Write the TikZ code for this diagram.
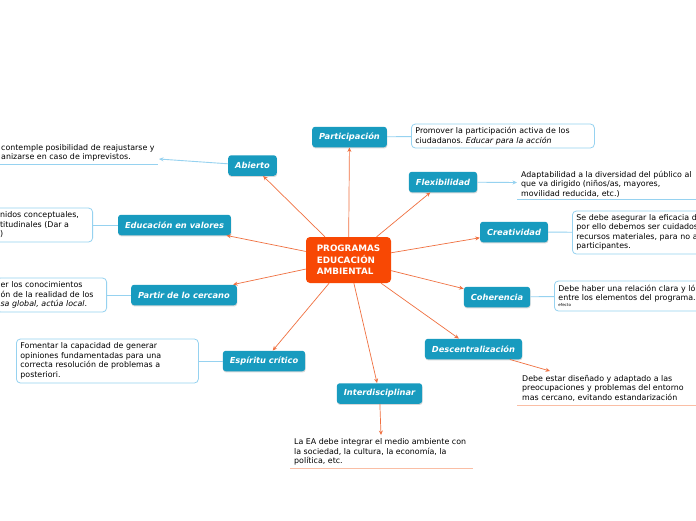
\documentclass[tikz,border=0pt]{standalone}
\usepackage{fontspec}
\setmainfont{DejaVu Sans}
\usetikzlibrary{arrows.meta,shadows}
\definecolor{tblue}{RGB}{24,155,191}
\definecolor{corange}{RGB}{240,112,64}
\definecolor{cred}{RGB}{248,72,4}
\definecolor{lblue}{RGB}{150,210,240}
\definecolor{salmon}{RGB}{250,190,165}
\tikzset{
  topic/.style={fill=tblue, text=white, font=\fontsize{8.3}{10}\selectfont\bfseries\itshape,
    rounded corners=3pt, inner xsep=7pt, inner ysep=0pt, minimum height=20.5pt,
    drop shadow={shadow xshift=0.4pt, shadow yshift=-1.2pt, opacity=0.3}},
  central/.style={fill=cred, text=white, font=\fontsize{8.8}{11.5}\selectfont\bfseries,
    rounded corners=4pt, align=left, minimum width=85pt, minimum height=46pt, inner sep=0pt},
  desc/.style={font=\fontsize{7.9}{9.5}\selectfont\frenchspacing, align=left, inner sep=0pt},
  dbox/.style={desc, draw=lblue, line width=0.8pt, fill=white, rounded corners=4pt, inner xsep=4pt, inner ysep=0pt},
  conn/.style={draw=corange, line width=0.7pt, -{Stealth[length=4.5pt,width=4pt]}},
  bconn/.style={draw=lblue, line width=0.9pt},
  barrow/.style={bconn, -{Stealth[length=4.5pt,width=4pt]}},
  uline/.style={line width=0.8pt},
}
\begin{document}
\begin{tikzpicture}[x=1pt,y=-1pt]
\useasboundingbox (0,0) rectangle (696,520);
\clip (0,0) rectangle (696,520);
\fill[white] (0,0) rectangle (696,520);

% central
\node[central] (c) at (348.5,260) {PROGRAMAS\\EDUCACIÓN\\AMBIENTAL};

% topics
\node[topic] (part) at (349.5,137) {Participación};
\node[topic] (abie) at (252.5,165.5) {Abierto};
\node[topic] (flex) at (443,182) {Flexibilidad};
\node[topic] (educ) at (174.5,225) {Educación en valores};
\node[topic] (crea) at (514,232) {Creatividad};
\node[topic] (cerc) at (184,295) {Partir de lo cercano};
\node[topic] (cohe) at (497,297) {Coherencia};
\node[topic] (desc) at (473.5,349) {Descentralización};
\node[topic] (espi) at (264,361) {Espíritu crítico};
\node[topic] (inte) at (379.5,393.5) {Interdisciplinar};

% central connectors
\foreach \t in {part,abie,flex,educ,crea,cerc,cohe,desc,espi,inte}
  \draw[conn] (c) -- (\t);

% description boxes
\node[dbox, anchor=west, text width=175pt, minimum height=24pt] (partd) at (411,136)
  {Promover la participación activa de los\\ciudadanos. \textit{Educar para la acción}};
\draw[bconn] (part) -- (partd);

\node[dbox, anchor=east, text width=88.5pt, minimum height=34pt] (educd) at (93,225)
  {nidos conceptuales,\\titudinales (Dar a\\)};
\draw[bconn] (educ) -- (educd);

\node[dbox, anchor=east, text width=102pt, minimum height=34pt] (cercd) at (107,295)
  {er los conocimientos\\ón de la realidad de los\\\textit{sa global, actúa local}.};
\draw[bconn] (cerc) -- (cercd);

\node[dbox, anchor=west, text width=174pt, minimum height=44pt] (espid) at (16,361)
  {Fomentar la capacidad de generar\\opiniones fundamentadas para una\\correcta resolución de problemas a\\posteriori.};
\draw[bconn] (espi) -- (espid);

\node[dbox, anchor=west, text width=150pt, minimum height=43pt] (cread) at (572,232.5)
  {Se debe asegurar la eficacia d\\por ello debemos ser cuidados\\recursos materiales, para no a\\participantes.};
\draw[bconn] (crea) -- (cread);

\node[dbox, anchor=west, text width=150pt, minimum height=30pt] (cohed) at (554,296)
  {Debe haber una relación clara y ló\\entre los elementos del programa.\\[-3.5pt]{\fontsize{4}{5}\selectfont efecto}};
\draw[bconn] (cohe) -- (cohed);

% free texts with underline
\node[desc, anchor=west] (abied) at (1,153)
  {contemple posibilidad de reajustarse y\\anizarse en caso de imprevistos.};
\coordinate (abieA) at (159,159);
\coordinate (abieL) at (0,164);
\draw[uline, draw=lblue] (abieL) -- (158,164);
\draw[barrow] (abie) -- (abieA);

\node[desc, anchor=west] (flexd) at (521,184)
  {Adaptabilidad a la diversidad del público al\\que va dirigido (niños/as, mayores,\\movilidad reducida, etc.)};
\coordinate (flexA) at (517,182.5);
\draw[uline, draw=lblue] (517,199) -- (696,199);
\draw[barrow] (flex) -- (flexA);

\node[desc, anchor=west] (descd) at (522,388)
  {Debe estar diseñado y adaptado a las\\preocupaciones y problemas del entorno\\mas cercano, evitando estandarización};
\coordinate (descA) at (550,371);
\draw[uline, draw=salmon] (517,405.5) -- (696,405.5);
\draw[conn] (desc) -- (descA);

\node[desc, anchor=west] (inted) at (294,452)
  {La EA debe integrar el medio ambiente con\\la sociedad, la cultura, la economía, la\\política, etc.};
\coordinate (inteA) at (381,435);
\draw[uline, draw=salmon] (290,468) -- (473,468);
\draw[conn] (inte) -- (inteA);
\end{tikzpicture}
\end{document}
